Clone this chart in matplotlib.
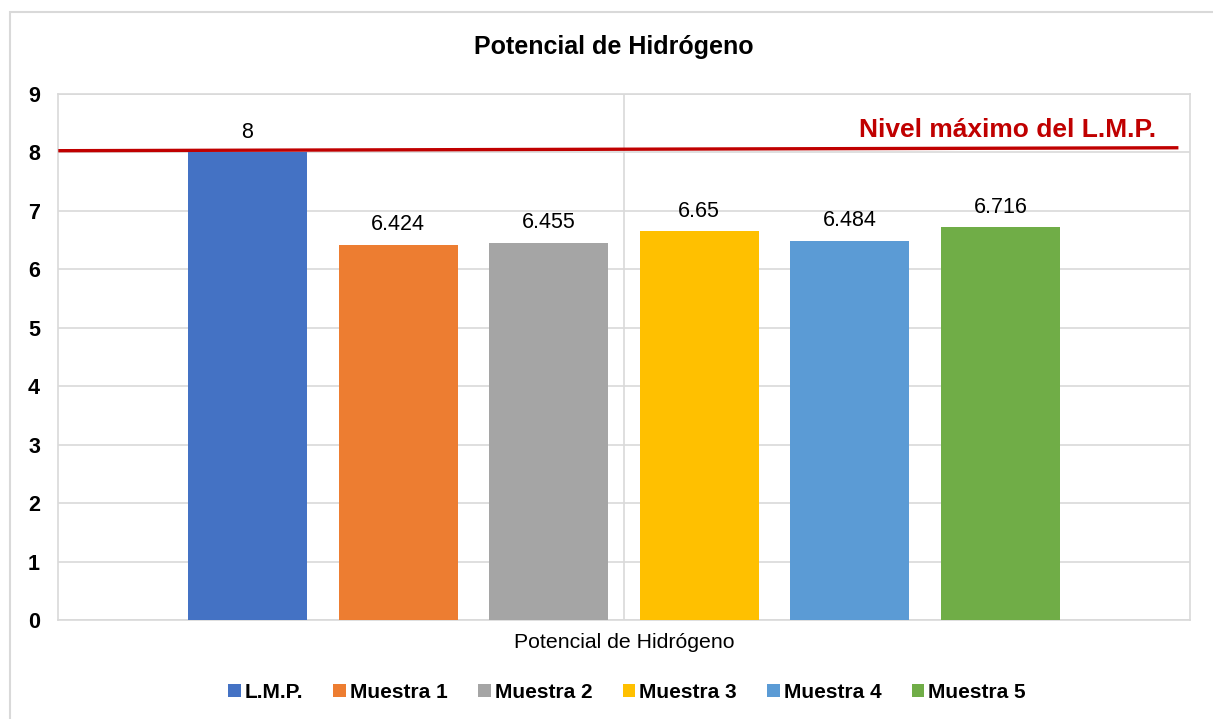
import matplotlib.pyplot as plt
from matplotlib.patches import Rectangle, Patch

plt.rcParams['font.family'] = ['Liberation Sans', 'DejaVu Sans']

categories = ['L.M.P.', 'Muestra 1', 'Muestra 2', 'Muestra 3', 'Muestra 4', 'Muestra 5']
values = [8, 6.424, 6.455, 6.65, 6.484, 6.716]
labels = ['8', '6.424', '6.455', '6.65', '6.484', '6.716']
colors = ['#4472C4', '#ED7D31', '#A5A5A5', '#FFC000', '#5B9BD5', '#70AD47']
lmp_line = [8.03, 8.08]  # red reference line, left / right ends

fig = plt.figure(figsize=(12.13, 7.19), dpi=100)
ax = fig.add_axes([58 / 1213, 1 - 620 / 719, 1132 / 1213, 526 / 719])

# outer chart border
fig.patches.append(Rectangle((10 / 1213, -0.01), 1.0, 1 - 12 / 719 + 0.01,
                             transform=fig.transFigure, fill=False,
                             edgecolor='#D9D9D9', linewidth=1.5))

x = list(range(len(values)))
bars = ax.bar(x, values, width=0.79, color=colors, zorder=3)
for xi, v, lab in zip(x, values, labels):
    ax.annotate(lab, (xi, v), xytext=(0, 7), textcoords='offset points',
                ha='center', va='bottom', fontsize=15.5)

ax.set_xlim(-1.258, 6.258)
ax.set_ylim(0, 9)
ax.set_yticks(range(10))
ax.yaxis.grid(True, color='#D9D9D9', linewidth=1.2, zorder=0)
ax.axvline(2.5, color='#D9D9D9', linewidth=1.2, zorder=0)
ax.set_xticks([])
ax.tick_params(axis='y', length=0, pad=13, labelsize=15.5)
for t in ax.get_yticklabels():
    t.set_fontweight('bold')
for s in ax.spines.values():
    s.set_color('#D9D9D9')
    s.set_linewidth(1.2)

ax.plot([-1.245, 6.17], lmp_line, color='#C00000', linewidth=2.4, zorder=4)
ax.text(6.03, 8.18, 'Nivel máximo del L.M.P.', color='#C00000', fontsize=19,
        fontweight='bold', ha='right', va='bottom')

fig.text(614 / 1213, 1 - 47 / 719, 'Potencial de Hidrógeno', fontsize=18,
         fontweight='bold', ha='center', va='center')
ax.set_xlabel('Potencial de Hidrógeno', fontsize=15.3, labelpad=9)

handles = [Patch(facecolor=c, edgecolor='none') for c in colors]
fig.legend(handles, categories, loc='center', bbox_to_anchor=(627 / 1213, 1 - 692 / 719),
           ncol=6, frameon=False, prop={'weight': 'bold', 'size': 15},
           handlelength=0.6, handleheight=0.6, handletextpad=0.2, columnspacing=1.45)

fig.savefig('out.png', dpi=100)
